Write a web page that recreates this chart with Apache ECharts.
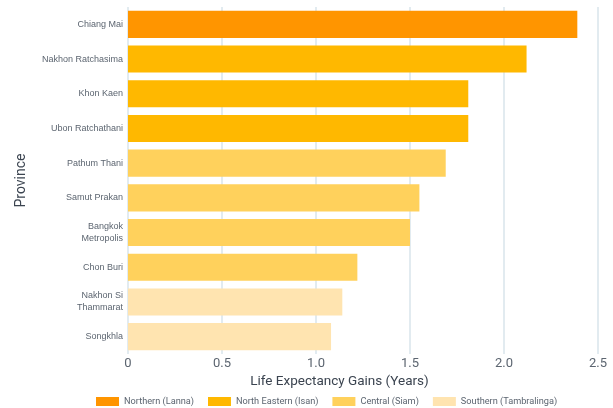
<!DOCTYPE html>
<html><head><meta charset="utf-8">
<script src="https://cdn.jsdelivr.net/npm/echarts@6/dist/echarts.min.js"></script>
<style>html,body{margin:0;padding:0;background:#fff}#c{width:613px;height:408px}</style>
</head><body><div id="c"></div>
<script>
const provinces = ['Chiang Mai','Nakhon Ratchasima','Khon Kaen','Ubon Ratchathani','Pathum Thani','Samut Prakan','Bangkok\nMetropolis','Chon Buri','Nakhon Si\nThammarat','Songkhla'];
const regions = ['Northern (Lanna)','North Eastern (Isan)','Central (Siam)','Southern (Tambralinga)'];
const provinceRegion = [0,1,1,1,2,2,2,2,3,3];
const gains = [2.39,2.12,1.81,1.81,1.69,1.55,1.50,1.22,1.14,1.08];
const regionColors = ['#ff9500','#ffb800','#ffd15c','#ffe4b0'];
const xTicks = [0,0.5,1,1.5,2,2.5];

const font = 'Roboto, sans-serif';
const series = regions.map((r, i) => ({
  name: r,
  type: 'bar',
  stack: 'total',
  barCategoryGap: '22%',
  itemStyle: {color: regionColors[i]},
  data: gains.map((v, j) => provinceRegion[j] === i ? v : null)
}));

const chart = echarts.init(document.getElementById('c'));
chart.setOption({
  animation: false,
  textStyle: {fontFamily: font},
  grid: {left: 128, right: 15, top: 7, bottom: 54},
  legend: {
    top: 397, left: 96, padding: 0, itemWidth: 23, itemHeight: 9, itemGap: 14,
    icon: 'rect',
    textStyle: {fontSize: 9.2, color: '#5c6570', fontFamily: font},
    data: regions
  },
  xAxis: {
    type: 'value', min: 0, max: 2.5, interval: 0.5,
    name: 'Life Expectancy Gains (Years)', nameLocation: 'middle', nameGap: 21,
    nameTextStyle: {fontSize: 13.5, color: '#3b4450', padding: [0, 47, 0, 0]},
    axisLine: {show: false}, axisTick: {show: false},
    axisLabel: {fontSize: 13, color: '#5c6570', margin: 3,
      formatter: v => xTicks.includes(v) ? (v === 0 ? '0' : v.toFixed(1)) : ''},
    splitLine: {lineStyle: {color: '#d9e5eb', width: 1.5}}
  },
  yAxis: {
    type: 'category', inverse: true, data: provinces,
    name: 'Province', nameLocation: 'middle', nameGap: 100,
    nameTextStyle: {fontSize: 14, color: '#3b4450'},
    axisLine: {show: false}, axisTick: {show: false},
    axisLabel: {fontSize: 9, color: '#5c6570', margin: 5, lineHeight: 12,
      fontFamily: '"Liberation Sans", Arial, sans-serif'}
  },
  series: series
});
</script></body></html>
